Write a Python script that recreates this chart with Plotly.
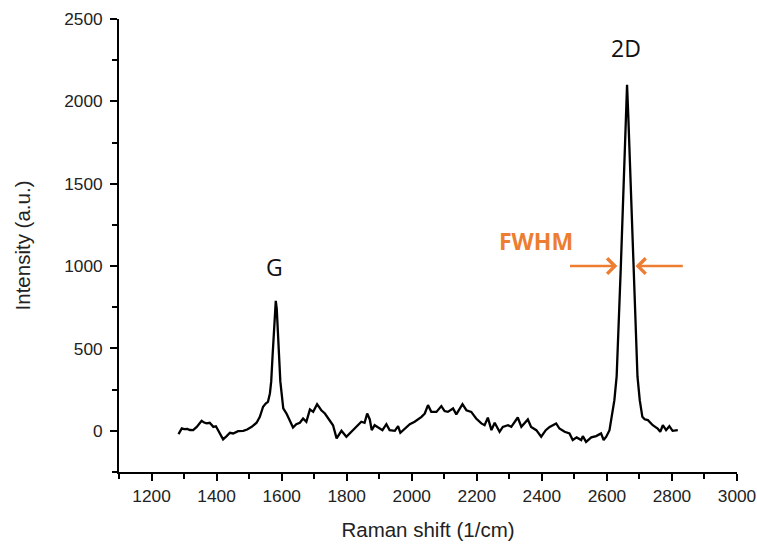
import plotly.graph_objects as go

# Raman spectrum
raman_shift = [
    1283, 1293, 1300, 1310, 1318, 1328, 1339, 1354, 1362, 1369, 1379, 1390, 1398, 1408,
    1420, 1431, 1441, 1451, 1466, 1482, 1494, 1508, 1523, 1533, 1543, 1551, 1558,
    1564, 1568, 1572, 1576, 1579, 1582, 1585, 1588, 1592, 1596, 1600,
    1605, 1615, 1625, 1635, 1645, 1656, 1666, 1676, 1687, 1697, 1709, 1722, 1733,
    1748, 1758, 1769, 1784, 1799, 1814, 1830, 1845, 1855, 1863, 1871, 1877, 1886,
    1902, 1910, 1922, 1932, 1948, 1958, 1965, 1978, 1994, 2009, 2019, 2030, 2040,
    2050, 2060, 2076, 2091, 2101, 2111, 2127, 2137, 2156, 2168, 2183, 2198, 2214,
    2224, 2234, 2245, 2255, 2270, 2280, 2296, 2306, 2326, 2337, 2357, 2367, 2383,
    2398, 2412, 2424, 2444, 2454, 2470, 2485, 2495, 2507, 2521, 2526, 2536, 2552,
    2567, 2582, 2590, 2598, 2608, 2615, 2623, 2630, 2634, 2640, 2643, 2648, 2653,
    2658, 2662, 2666, 2671, 2676, 2681, 2684, 2690, 2694, 2701, 2709, 2716, 2726,
    2741, 2756, 2764, 2772, 2782, 2792, 2802, 2818,
]
intensity = [
    -20, 15, 10, 12, 5, 4, 24, 61, 50, 45, 49, 24, 28, -6,
    -52, -32, -12, -16, -2, 0, 8, 24, 49, 85, 146, 166, 176,
    227, 300, 450, 620, 740, 789, 740, 620, 450, 300, 227,
    136, 105, 65, 20, 40, 49, 75, 55, 130, 115, 162, 125, 105,
    65, 34, -46, 0, -36, -6, 28, 55, 49, 105, 69, 4, 34,
    14, 4, 40, 4, 0, 28, -12, 14, 40, 55, 69, 85, 105,
    156, 115, 115, 150, 120, 115, 136, 100, 162, 125, 115, 75, 45,
    34, 80, 4, 49, -6, 24, 34, 24, 81, 24, 69, 24, 4,
    -36, 4, 24, 45, 14, -6, -16, -56, -40, -56, -32, -67, -40,
    -32, -16, -56, -36, 4, 85, 186, 330, 500, 850, 1005, 1300, 1600,
    1900, 2100, 1900, 1600, 1300, 1005, 850, 500, 330, 186, 85, 70, 65,
    34, 14, -6, 34, 4, 28, 0, 4,
]

x_ticks = [1200, 1400, 1600, 1800, 2000, 2200, 2400, 2600, 2800, 3000]
y_ticks = [0, 500, 1000, 1500, 2000, 2500]

fig = go.Figure()
fig.add_trace(go.Scatter(
    x=raman_shift, y=intensity, mode="lines",
    line=dict(color="black", width=2.3), showlegend=False,
))

axis_font = dict(family="Liberation Sans, Arial, sans-serif", size=17.3, color="#222")
title_font = dict(family="Liberation Sans, Arial, sans-serif", size=20.5, color="#222")

fig.update_xaxes(
    range=[1100, 3000], tickvals=x_ticks, ticks="outside", ticklen=7, tickwidth=1.5,
    tickcolor="black", showline=True, linecolor="black", linewidth=1.8,
    showgrid=False, zeroline=False, tickfont=axis_font, ticklabelstandoff=0,
    automargin=False,
    title=dict(text="Raman shift (1/cm)", font=title_font, standoff=18),
    minor=dict(dtick=100, tick0=1100, ticks="outside", ticklen=5, tickwidth=1.5,
               tickcolor="black", showgrid=False),
)
fig.update_yaxes(
    range=[-250, 2500], tickvals=y_ticks, ticks="outside", ticklen=7, tickwidth=1.5,
    tickcolor="black", showline=True, linecolor="black", linewidth=1.8,
    showgrid=False, zeroline=False, tickfont=axis_font, ticklabelstandoff=4,
    automargin=False,
    title=dict(text="Intensity (a.u.)", font=title_font, standoff=28),
    minor=dict(dtick=250, tick0=-250, ticks="outside", ticklen=5, tickwidth=1.5,
               tickcolor="black", showgrid=False),
)

label_font = dict(family="Open Sans, sans-serif", size=23, color="#111")
orange = "#ED7D31"
fig.add_annotation(x=1578, y=995, text="G", showarrow=False, font=label_font)
fig.add_annotation(x=2660, y=2321, text="2D", showarrow=False, font=label_font)
fig.add_annotation(x=2381, y=1153, text="<b>FWHM</b>", showarrow=False,
                   font=dict(family="Open Sans, sans-serif", size=23, color=orange))
fig.add_annotation(x=2632, y=1000, ax=2482, ay=1000, axref="x", ayref="y",
                   showarrow=True, arrowhead=4, arrowsize=1.2, arrowwidth=2.5,
                   arrowcolor=orange, text="")
fig.add_annotation(x=2688, y=1000, ax=2838, ay=1000, axref="x", ayref="y",
                   showarrow=True, arrowhead=4, arrowsize=1.2, arrowwidth=2.5,
                   arrowcolor=orange, text="")

fig.update_layout(
    width=757, height=545,
    margin=dict(l=119, r=20, t=19, b=73),
    plot_bgcolor="white", paper_bgcolor="white",
)

# remove the browser's default 8px body margin so the figure fills the window
fig.write_html("out.html", config={"displayModeBar": False},
               post_script="document.body.style.margin='0';")
